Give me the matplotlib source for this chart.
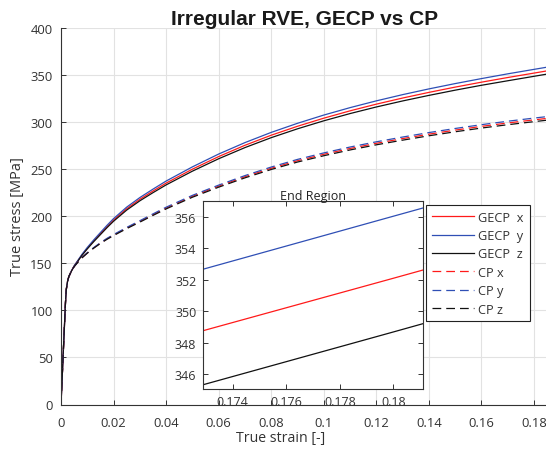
import matplotlib
matplotlib.use("Agg")
import matplotlib.pyplot as plt

# ---------------- data ----------------
strain = [0, 0.001, 0.0017, 0.002, 0.0025, 0.003, 0.004, 0.005, 0.0065, 0.008,
          0.01, 0.0125, 0.015, 0.0175, 0.02, 0.025, 0.03, 0.035, 0.04, 0.05,
          0.06, 0.07, 0.08, 0.09, 0.10, 0.11, 0.12, 0.13, 0.14, 0.15,
          0.16, 0.17, 0.18, 0.1857]

gecp_x = [0, 64, 108, 122, 131, 136, 142, 147, 153, 159,
          166, 174, 181.5, 189, 196, 208, 218, 226.8, 235.2, 250.0,
          263.4, 275.4, 286.1, 295.6, 304.2, 312.0, 319.1, 325.6, 331.6, 337.2,
          342.45, 347.4, 352.1, 354.8]
gecp_y = [0, 64, 108, 122, 131, 136, 142.1, 147.3, 153.45, 159.6,
          166.8, 175.0, 182.7, 190.35, 197.5, 209.7, 219.85, 228.8, 237.4, 252.45,
          266.1, 278.25, 289.1, 298.75, 307.5, 315.4, 322.6, 329.2, 335.3, 340.95,
          346.25, 351.3, 356.05, 358.75]
gecp_z = [0, 64, 108, 122, 131, 136, 141.9, 146.7, 152.6, 158.5,
          165.3, 173.15, 180.5, 187.85, 194.7, 206.55, 216.4, 225.05, 233.3, 247.9,
          261.1, 272.95, 283.5, 292.9, 301.4, 309.1, 316.1, 322.5, 328.4, 333.95,
          339.15, 343.95, 348.68, 351.4]

cp_x = [0, 64, 108, 122, 131, 136, 142, 146.5, 151.5, 156,
        161, 166.5, 171.5, 176, 180, 187.5, 194.5, 201.7, 208.7, 221.2,
        232, 242, 251, 259, 265.8, 272, 277.5, 282.5, 287.2, 291.5,
        295.5, 299.1, 302.4, 304.2]
cp_y = [0, 64, 108, 122, 131, 136, 142, 146.5, 151.6, 156.15,
        161.25, 166.8, 171.9, 176.5, 180.55, 188.15, 195.25, 202.5, 209.6, 222.2,
        233.1, 243.2, 252.3, 260.4, 267.3, 273.55, 279.1, 284.15, 288.9, 293.25,
        297.3, 300.95, 304.3, 306.1]
cp_z = [0, 64, 108, 122, 131, 136, 142, 146.5, 151.4, 155.85,
        160.75, 166.2, 171.1, 175.5, 179.45, 186.85, 193.75, 200.9, 207.8, 220.2,
        230.9, 240.8, 249.7, 257.6, 264.3, 270.45, 275.9, 280.85, 285.5, 289.75,
        293.7, 297.25, 300.5, 302.3]

labels = ["GECP  x", "GECP  y", "GECP  z", "CP x", "CP y", "CP z"]

xticks = [0, 0.02, 0.04, 0.06, 0.08, 0.10, 0.12, 0.14, 0.16, 0.18]
xtick_labels = ["0", "0.02", "0.04", "0.06", "0.08", "0.1", "0.12", "0.14", "0.16", "0.18"]
yticks = [0, 50, 100, 150, 200, 250, 300, 350, 400]

inset_xticks = [0.174, 0.176, 0.178, 0.18]
inset_xtick_labels = ["0.174", "0.176", "0.178", "0.18"]
inset_yticks = [346, 348, 350, 352, 354, 356]

# ---------------- style ----------------
RED = "#ff1a1a"
BLUE = "#2f4fb5"
BLACK = "#111111"
TXT = "#333333"
FONT = "Open Sans"
DASH = (0, (7.0, 4.0))

W, H = 546, 452
fig = plt.figure(figsize=(W / 100, H / 100), dpi=100)

L, R, T, B = 61, 549, 29, 405.5
ax = fig.add_axes([L / W, (H - B) / H, (R - L) / W, (B - T) / H])

series = [(gecp_x, RED, "-"), (gecp_y, BLUE, "-"), (gecp_z, BLACK, "-"),
          (cp_x, RED, DASH), (cp_y, BLUE, DASH), (cp_z, BLACK, DASH)]
handles = []
for (vals, col, ls), lab in zip(series, labels):
    h, = ax.plot(strain, vals, color=col, lw=0.9, linestyle=ls, label=lab)
    handles.append(h)

ax.set_xlim(0, 0.1857)
ax.set_ylim(0, 400)
ax.set_xticks(xticks)
ax.set_xticklabels(xtick_labels)
ax.set_yticks(yticks)
ax.grid(True, color="#e2e2e2", lw=0.8)
ax.set_axisbelow(True)
for s in ["top", "right"]:
    ax.spines[s].set_visible(False)
for s in ["left", "bottom"]:
    ax.spines[s].set_color("#333333")
    ax.spines[s].set_linewidth(0.8)
ax.tick_params(direction="in", length=3.5, width=0.7, colors="#333333",
               labelcolor=TXT, labelsize=9.4, pad=6)
ax.tick_params(axis="x", pad=8)
for t in ax.get_xticklabels() + ax.get_yticklabels():
    t.set_fontfamily(FONT)

ax.set_title("Irregular RVE, GECP vs CP", fontsize=15, fontweight="bold",
             family="Liberation Sans", color="#1a1a1a", pad=2)
fig.text(281 / W, (H - 442) / H, "True strain [-]", ha="center", va="baseline",
         fontsize=10.2, family=FONT, color=TXT)
fig.text(18 / W, (H - 217) / H, "True stress [MPa]", ha="center", va="center",
         rotation=90, fontsize=10.5, family=FONT, color=TXT)

leg = ax.legend(handles=handles, loc="upper left",
                bbox_to_anchor=(426 / W, (H - 206) / H),
                bbox_transform=fig.transFigure,
                prop={"family": FONT, "size": 9.2}, frameon=True,
                fancybox=False, framealpha=1, edgecolor="#222222",
                handlelength=3.3, handletextpad=0.35, labelspacing=0.42,
                borderpad=0.45, borderaxespad=0)
leg.get_frame().set_linewidth(0.8)
for t in leg.get_texts():
    t.set_color(TXT)

# ---------------- inset ----------------
iL, iR, iT, iB = 203.2, 422.8, 202.3, 389.5
axi = fig.add_axes([iL / W, (H - iB) / H, (iR - iL) / W, (iB - iT) / H])
for vals, col, ls in series:
    axi.plot(strain, vals, color=col, lw=0.9, linestyle=ls)
axi.set_xlim(0.1729, 0.1811)
axi.set_ylim(345.08, 357.0)
axi.set_xticks(inset_xticks)
axi.set_xticklabels(inset_xtick_labels)
axi.set_yticks(inset_yticks)
axi.set_facecolor("white")
for s in axi.spines.values():
    s.set_color("#333333")
    s.set_linewidth(0.8)
axi.tick_params(direction="in", length=3.5, width=0.7, colors="#333333",
                labelcolor=TXT, labelsize=9, pad=5, top=True, right=True)
for t in axi.get_xticklabels() + axi.get_yticklabels():
    t.set_fontfamily(FONT)
axi.set_title("End Region", fontsize=9, family=FONT, color="#222222", pad=2)

fig.savefig("out.png", dpi=100)
